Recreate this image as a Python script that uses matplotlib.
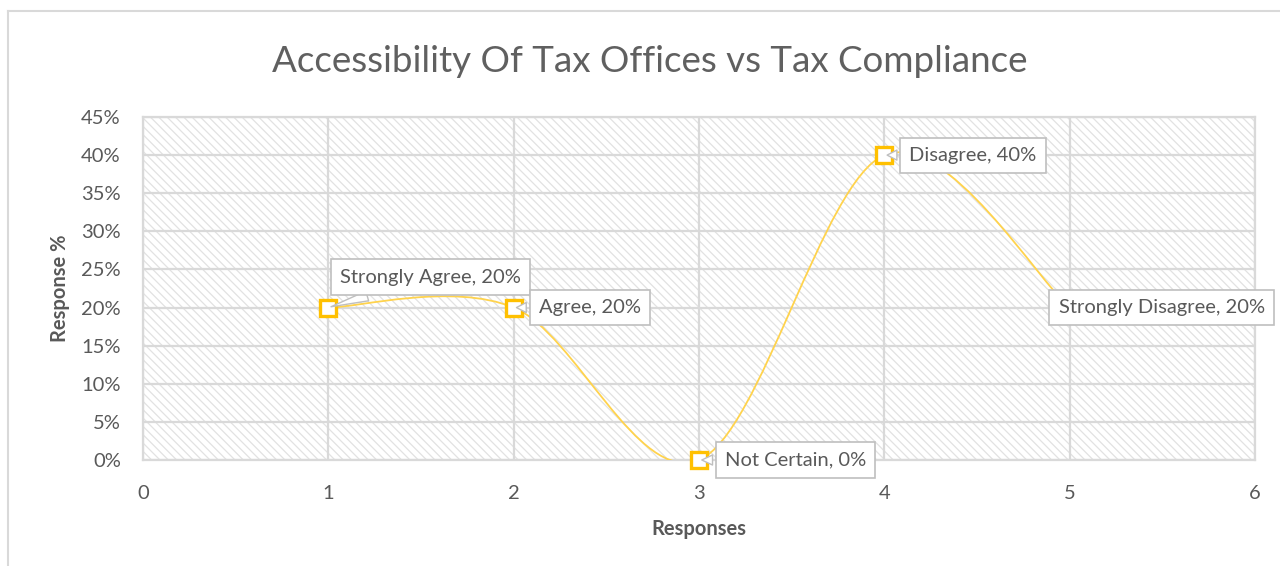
import matplotlib.pyplot as plt
from matplotlib.path import Path
from matplotlib.patches import PathPatch, Rectangle
from matplotlib.lines import Line2D
from matplotlib.ticker import PercentFormatter

categories = ['Strongly Agree', 'Agree', 'Not Certain', 'Disagree', 'Strongly Disagree']
responses = [1, 2, 3, 4, 5]
percent = [20, 20, 0, 40, 20]

# label offsets in points from each marker
label_dx = [8.6, 18, 18.7, 18, -8]
label_dy = [22, 0, 0, 0, 0]

plt.rcParams['font.family'] = ['Lato', 'DejaVu Sans']
plt.rcParams['hatch.linewidth'] = 0.9
grey = '#595959'
gold = '#FFC000'

fig = plt.figure(figsize=(12.8, 5.66), dpi=100)
ax = fig.add_axes([143 / 1280, 1 - 460 / 566, 1112 / 1280, 343 / 566])

# hatched plot area
ax.add_patch(Rectangle((0, 0), 1, 1, transform=ax.transAxes, facecolor='white',
                       edgecolor='#e2e2e2', hatch='\\\\\\\\', linewidth=0, zorder=0))

# smoothed line, same bezier handles as a spreadsheet "smoothed line"
pts = list(zip(responses, percent))
verts = [pts[0]]
codes = [Path.MOVETO]
for i in range(len(pts) - 1):
    p0 = pts[max(i - 1, 0)]
    p1 = pts[i]
    p2 = pts[i + 1]
    p3 = pts[min(i + 2, len(pts) - 1)]
    c1 = (p1[0] + (p2[0] - p0[0]) / 6, p1[1] + (p2[1] - p0[1]) / 6)
    c2 = (p2[0] - (p3[0] - p1[0]) / 6, p2[1] - (p3[1] - p1[1]) / 6)
    verts += [c1, c2, p2]
    codes += [Path.CURVE4] * 3
ax.add_patch(PathPatch(Path(verts, codes), facecolor='none', edgecolor='#FFD34D',
                       linewidth=1.3, zorder=3))

ax.plot(responses, percent, linestyle='none', marker='s', markersize=11,
        markerfacecolor='white', markeredgecolor=gold, markeredgewidth=2.4,
        zorder=4, clip_on=False)

for i in range(len(categories)):
    arrow = None
    if i < 4:
        arrow = dict(arrowstyle='wedge,tail_width=0.5,shrink_factor=0.5',
                     fc='white', ec='#bfbfbf', lw=1)
    ax.annotate(f'{categories[i]}, {percent[i]}%', (responses[i], percent[i]),
                xytext=(label_dx[i], label_dy[i]), textcoords='offset points',
                ha='left', va='center', fontsize=14.5, color=grey, zorder=6,
                bbox=dict(boxstyle='square,pad=0.45', fc='white', ec='#bfbfbf', lw=1.2),
                arrowprops=arrow, annotation_clip=False)

ax.set_xlim(0, 6)
ax.set_ylim(0, 45)
ax.set_xticks(range(0, 7))
ax.set_yticks(range(0, 46, 5))
ax.yaxis.set_major_formatter(PercentFormatter(decimals=0))
ax.grid(True, color='#d9d9d9', linewidth=1.6, zorder=1)
ax.set_axisbelow(True)
for s in ax.spines.values():
    s.set_color('#d9d9d9')
    s.set_linewidth(1.6)
ax.tick_params(length=0, labelsize=14.5, labelcolor=grey)
ax.tick_params(axis='x', pad=18)
ax.tick_params(axis='y', pad=16)

ax.set_xlabel('Responses', fontsize=14.5, fontweight='bold', color=grey, labelpad=12)
ax.set_ylabel('Response %', fontsize=14.5, fontweight='bold', color=grey, labelpad=8)

fig.text(650 / 1280, 1 - 61 / 566, 'Accessibility Of Tax Offices vs Tax Compliance',
         ha='center', va='center', fontsize=26.5, color='#606060')

# chart border
fig.add_artist(Line2D([8 / 1280, 8 / 1280], [0, 1 - 11 / 566], color='#d9d9d9', lw=1.5))
fig.add_artist(Line2D([8 / 1280, 1], [1 - 11 / 566, 1 - 11 / 566], color='#d9d9d9', lw=1.5))

fig.savefig('out.png', dpi=100)
